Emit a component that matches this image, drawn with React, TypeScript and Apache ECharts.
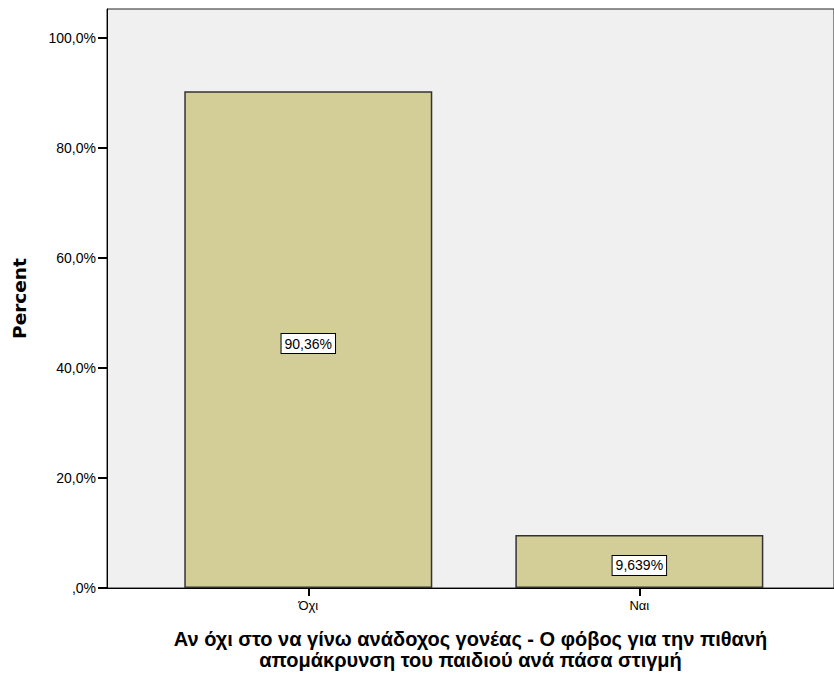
import React, { useEffect, useRef } from "react";
import * as echarts from "echarts";

const categories = ["Όχι", "Ναι"];
const percentValues = [90.36, 9.639];
const percentLabels = ["90,36%", "9,639%"];
const yTicks = [0, 20, 40, 60, 80, 100];
const yAxisTitle = "Percent";
const xAxisTitle =
  "Αν όχι στο να γίνω ανάδοχος γονέας - Ο φόβος για την πιθανή\nαπομάκρυνση του παιδιού ανά πάσα στιγμή";

const fmtY = (v: number) => {
  if (v === 0) return ",0%";
  return v.toFixed(1).replace(".", ",") + "%";
};

export default function App() {
  const ref = useRef<HTMLDivElement>(null);
  useEffect(() => {
    document.body.style.margin = "0";
    if (!ref.current) return;
    const chart = echarts.init(ref.current, null, { renderer: "svg" });
    const catIdx = categories.map((_, i) => i);
    chart.setOption({
      animation: false,
      backgroundColor: "#ffffff",
      textStyle: { fontFamily: "Liberation Sans, Arial, sans-serif" },
      grid: {
        left: 107,
        right: -2,
        top: 9,
        bottom: 87,
        show: true,
        backgroundColor: "#f0f0f0",
        borderColor: "#222222",
        borderWidth: 1,
      },
      xAxis: {
        type: "value",
        min: -0.608,
        max: 1.588,
        splitLine: { show: false },
        axisLine: { show: true, onZero: false, lineStyle: { color: "#000", width: 1 } },
        axisTick: {
          show: true,
          length: 8,
          customValues: catIdx,
          lineStyle: { color: "#000", width: 2 },
        },
        axisLabel: {
          customValues: catIdx,
          formatter: (v: number) => categories[Math.round(v)] ?? "",
          color: "#000",
          fontSize: 13,
          margin: 11,
        },
        name: xAxisTitle,
        nameLocation: "middle",
        nameGap: 40,
        nameTextStyle: {
          color: "#000",
          fontSize: 20,
          fontWeight: "bold",
          lineHeight: 21,
          align: "center",
          verticalAlign: "top",
        },
      },
      yAxis: {
        type: "value",
        min: 0,
        max: 105.3,
        splitLine: { show: false },
        axisLine: { show: true, onZero: false, lineStyle: { color: "#000", width: 1 } },
        axisTick: {
          show: true,
          length: 9,
          customValues: yTicks,
          lineStyle: { color: "#000", width: 2 },
        },
        axisLabel: {
          customValues: yTicks,
          formatter: fmtY,
          color: "#000",
          fontSize: 14,
          margin: 11,
        },
        name: yAxisTitle,
        nameLocation: "middle",
        nameGap: 78,
        nameTextStyle: {
          color: "#000",
          fontSize: 18.5,
          fontWeight: "bold",
          fontFamily: "DejaVu Sans",
        },
      },
      series: [
        {
          type: "bar",
          barWidth: 248,
          data: percentValues.map((v, i) => [i, v]),
          itemStyle: {
            color: "#d3ce98",
            borderColor: "#333333",
            borderWidth: 1.5,
          },
          label: {
            show: true,
            position: "inside",
            offset: [0, 4],
            formatter: (p: any) => percentLabels[p.dataIndex],
            color: "#000",
            fontSize: 14,
            backgroundColor: "#ffffff",
            borderColor: "#000",
            borderWidth: 1,
            padding: [3, 3, 2, 3],
          },
        },
      ],
    });
    return () => chart.dispose();
  }, []);
  return <div ref={ref} style={{ width: 834, height: 675 }} />;
}
